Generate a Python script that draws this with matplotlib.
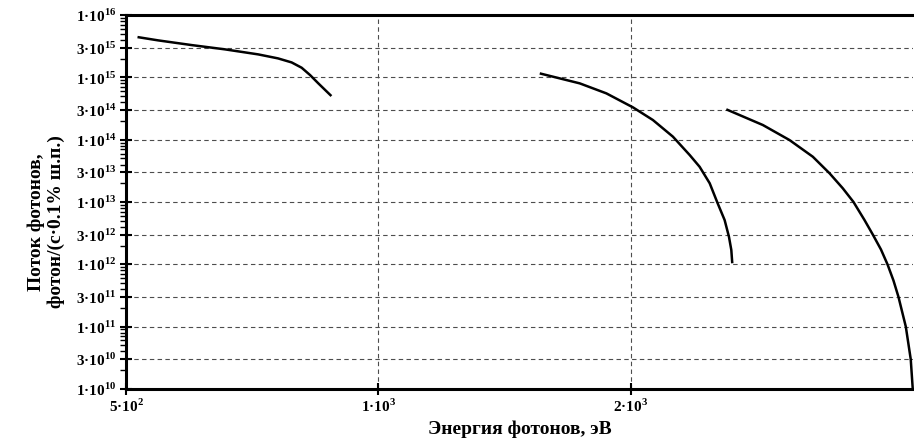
import matplotlib
matplotlib.use("Agg")
import matplotlib.pyplot as plt
from matplotlib.ticker import FixedLocator, LogLocator, NullLocator

plt.rcParams["font.family"] = ["Liberation Serif", "DejaVu Serif"]
plt.rcParams["font.weight"] = "bold"
plt.rcParams["mathtext.fontset"] = "custom"
plt.rcParams["mathtext.rm"] = "Liberation Serif:bold"
plt.rcParams["mathtext.bf"] = "Liberation Serif:bold"

# curves: energy (eV), flux (photons/(s*0.1% bw))
e1 = [516, 546, 599, 656, 719, 759, 788, 810, 829, 848, 879]
f1 = [4.44e15, 3.93e15, 3.30e15, 2.82e15, 2.34e15, 2.02e15, 1.74e15,
      1.43e15, 1.09e15, 8.02e14, 5.02e14]

e2 = [1558, 1739, 1871, 2013, 2126, 2246, 2352, 2417, 2485, 2540, 2589,
      2620, 2637, 2644]
f2 = [1.16e15, 8.02e14, 5.54e14, 3.30e14, 2.07e14, 1.12e14, 5.68e13,
      3.68e13, 2.0e13, 9.53e12, 5.14e12, 2.77e12, 1.70e12, 1.04e12]

e3 = [2601, 2876, 3094, 3299, 3454, 3582, 3689, 3802, 3890, 3978, 4050,
      4117, 4174, 4259, 4317, 4341]
f3 = [3.07e14, 1.72e14, 9.88e13, 5.33e13, 2.89e13, 1.66e13, 1.0e13,
      5.14e12, 3.0e12, 1.73e12, 1.0e12, 5.5e11, 3.0e11, 1.0e11,
      3.0e10, 1.0e10]

xticks = [500, 1000, 2000]
xtick_labels = ["5·10$^{\\mathbf{2}}$", "1·10$^{\\mathbf{3}}$", "2·10$^{\\mathbf{3}}$"]

y_mant = [1, 3, 1, 3, 1, 3, 1, 3, 1, 3, 1, 3, 1]
y_exp = [16, 15, 15, 14, 14, 13, 13, 12, 12, 11, 11, 10, 10]
yticks = [m * 10.0 ** e for m, e in zip(y_mant, y_exp)]
ytick_labels = [f"{m}·10$^{{\\mathbf{{{e}}}}}$" for m, e in zip(y_mant, y_exp)]

fig, ax = plt.subplots(figsize=(9.14, 4.44), dpi=100)
fig.subplots_adjust(left=0.1379, right=0.999, bottom=0.124, top=0.966)

ax.set_xscale("log")
ax.set_yscale("log")
ax.set_xlim(500, 4345)
ax.set_ylim(1e10, 1e16)

for e, f in [(e1, f1), (e2, f2), (e3, f3)]:
    ax.plot(e, f, color="black", lw=1.8, solid_joinstyle="round",
            solid_capstyle="butt", zorder=3, clip_on=False)

ax.xaxis.set_major_locator(FixedLocator(xticks))
ax.xaxis.set_minor_locator(NullLocator())
ax.set_xticklabels(xtick_labels)
ax.yaxis.set_major_locator(FixedLocator(yticks))
ax.yaxis.set_minor_locator(LogLocator(base=10, subs=range(2, 10)))
ax.set_yticklabels(ytick_labels)

ax.grid(True, which="major", color="0.3", lw=0.8, ls=(0, (4, 3)))
ax.tick_params(axis="both", which="major", direction="inout", length=8,
               width=1.5, labelsize=11)
ax.tick_params(axis="y", which="minor", direction="out", length=4, width=1)
ax.tick_params(axis="x", pad=2)
ax.tick_params(axis="y", pad=3)

for s in ["left", "bottom", "top"]:
    ax.spines[s].set_linewidth(2.2)
ax.spines["right"].set_visible(False)

ax.set_xlabel("Энергия фотонов, эВ", fontsize=14, fontweight="bold", labelpad=4)
fig.text(0.051, 0.5, "Поток фотонов,\nфотон/(с·0.1% ш.п.)", rotation=90,
         ha="center", va="center", multialignment="center",
         fontsize=14, fontweight="bold")

fig.savefig("out.png", dpi=100)
